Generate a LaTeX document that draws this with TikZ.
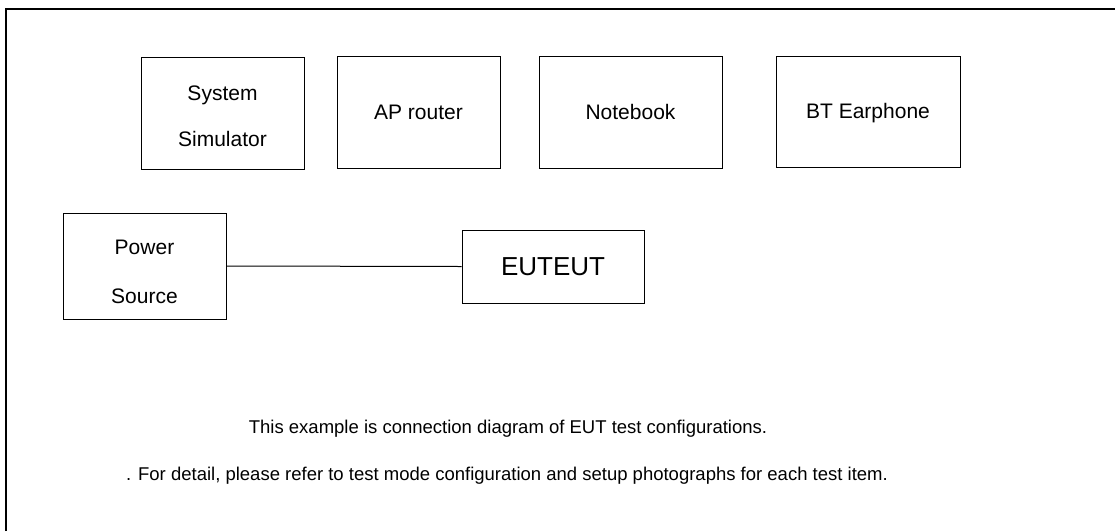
\documentclass[tikz,border=0pt]{standalone}
\usepackage{fontspec}
\setmainfont{Liberation Sans}
\begin{document}
\begin{tikzpicture}[x=1pt,y=-1pt,
  box/.style={draw, line width=1pt, rectangle, inner sep=0pt, align=center,
    font=\fontsize{21}{46}\selectfont},
  inlabel/.style={align=center, inner sep=0pt, font=\fontsize{21}{49}\selectfont},
  caption/.style={inner sep=0pt, font=\fontsize{18.5}{24}\selectfont}]
\useasboundingbox (0,0) rectangle (1115,531);
\draw[line width=2.5pt] (6,531) -- (6,9) -- (1115,9);
\node[box, minimum width=163, minimum height=112,
  label={[inlabel, font=\fontsize{21}{46}\selectfont, yshift=-3pt]center:System\\Simulator}] (sim) at (222.5,113) {};
\node[box, minimum width=163, minimum height=112] (ap) at (418.5,112) {AP router};
\node[box, minimum width=183, minimum height=112] (nb) at (630.5,112) {Notebook};
\node[box, minimum width=184, minimum height=111,
  label={[inlabel, yshift=-2pt]center:BT Earphone}] (bt) at (868,111.5) {};
\node[box, minimum width=163, minimum height=106,
  label={[inlabel, yshift=-6pt]center:Power\\Source}] (pwr) at (144.5,266) {};
\node[box, minimum width=182, minimum height=73, font=\fontsize{26}{30}\selectfont] (eut) at (553,266.5) {EUTEUT};
\draw[line width=1pt] (pwr.east) -- (eut.west);
\node[caption] (c1) at (508,429) {This example is connection diagram of EUT test configurations.};
\node[caption] (c2) at (507,476) {. For detail, please refer to test mode configuration and setup photographs for each test item.};
\end{tikzpicture}
\end{document}
